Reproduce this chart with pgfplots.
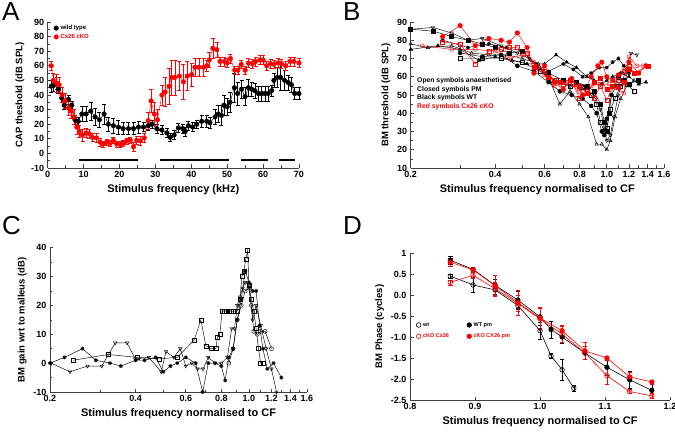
\documentclass[border=0pt]{standalone}
\usepackage{pgfplots}
\pgfplotsset{compat=1.18}
\usepackage{pgfplotstable}
\usepackage{fontspec}
\setmainfont{Liberation Sans}
\usetikzlibrary{plotmarks}

\pgfplotstableread{
x y e
1 46 4
1.6 46.5 4
2.5 48 4
3 44 3
3.9 38 3
4.6 33 3
5.8 37 3
6.7 33 3
7.6 23 3
8.5 22 3
9.5 27 5
10.7 27 5
12 29 6
13.2 25 6
14.4 23 5
15.7 27 7
16.9 20 5
18.3 19 5
19.7 18 5
21 17 4
22.5 17 4
23.9 17 4
25.3 18 4
26.7 18 3
28 19 3
29 20 3
30.4 17 3
31.8 16 3
33.2 14 3
34.1 11 3
35.2 12.6 3
36.4 17.5 3
37.6 17 3
38.3 15 3
39.2 19 3
40.4 18 3
41.5 20 3
42.9 22 4
44.3 22 4
45.2 21 4
46.6 25 5
47.5 27 6
48.4 26 7
49.1 33 7
50 32 6
50.8 35 7
52 45 10
52.9 41 8
54 44 6
55 39 6
55.9 45 6
56.8 44 5
57.7 43 5
58.7 41 5
59.6 41 5
60.5 41 5
61.4 41 5
62.4 43 4
63 50 5
63.9 52 7
64.9 52 9
66 50 7
67 48.5 5
67.9 47 5
68.8 41 4
70 41 4
}\wtdata

\pgfplotstableread{
x y e
1 60 3
1.6 50 5
2.5 48 6
3.2 47 5
4 40 5
4.8 36 5
5.8 31 5
6.5 29 5
7.3 25 5
8.1 18 5
8.8 15 4
9.7 12.5 4
10.7 14 3
11.6 13.5 3
12.5 11 3
13.6 10.6 3
14.6 7.7 3
15.5 6.5 2
16.4 7.7 2
17.4 7 2
18.3 9 2
19.2 6.5 2
20.2 6 2
21.1 7 2
22 8.5 2
23 9 2
23.9 4.5 3
24.8 9 3
25.8 8.5 3
26.9 10.6 3
28 22.5 6
28.8 36 8
29.7 27 8
30.6 23 7
31.8 40 7
32.7 42 10
33.8 46 12
34.5 52 12
35.4 52 12
36.7 53 10
37.8 49 12
38.9 53 10
40.1 54 8
41 59 6
42.1 59 6
43.4 59 6
44.3 60 4
45 64 5
46 72 7
47.1 71 5
48 63 3
49.2 63 3
50 62 3
50.9 65 3
52.1 57 3
53 57 3
53.9 61 3
55 57 3
55.9 62 3
57 61.5 3
57.9 63 3
59.1 64 3
60 64 3
61 60 3
62.1 61.5 3
63 61 3
64.2 62 3
65.1 61.5 3
66.3 60 3
67.5 63 3
68.6 63 3
70 62 3
}\kodata

\pgfplotsset{
  panel/.style={
    scale only axis,
    anchor=south west,
    axis x line*=bottom,
    axis y line*=left,
    axis line style={-, black!75, line width=0.7pt},
    tick style={black!75, line width=0.6pt},
    major tick length=3.5pt,
    minor tick length=2.5pt,
    tick align=inside,
    /pgf/number format/assume math mode=true,
    tick label style={font=\bfseries\fontsize{9}{10}\selectfont},
    xlabel style={font=\bfseries\fontsize{11}{12}\selectfont},
    ylabel style={font=\bfseries\fontsize{9.5}{10}\selectfont},
    legend image code/.code={\draw[#1, /tikz/only marks] plot coordinates {(0.12cm,0cm)};},
    clip=false,
  },
}

\begin{document}
\begin{tikzpicture}
\path[use as bounding box] (0pt,0pt) rectangle (675pt,434pt);

\node[anchor=north west, font=\fontsize{26}{26}\selectfont, inner sep=0pt] at (2pt,432pt) {A};
\node[anchor=north west, font=\fontsize{26}{26}\selectfont, inner sep=0pt] at (343pt,432pt) {B};
\node[anchor=north west, font=\fontsize{26}{26}\selectfont, inner sep=0pt] at (2pt,218pt) {C};
\node[anchor=north west, font=\fontsize{26}{26}\selectfont, inner sep=0pt] at (343pt,218pt) {D};

% ---------------- A
\begin{axis}[panel,
  at={(47.7pt,266pt)}, width=251.3pt, height=146pt,
  xmin=0, xmax=70, ymin=-10, ymax=90,
  xtick={0,10,...,70}, minor xtick={5,15,...,65},
  ytick={-10,0,...,90}, minor ytick={-5,5,...,85},
  xlabel={Stimulus frequency (kHz)},
  ylabel={CAP theshold (dB SPL)},
  legend style={at={(0.02,1.0)}, anchor=north west, draw=none, fill=none,
    font=\bfseries\fontsize{6}{6}\selectfont, row sep=-1pt, inner sep=1pt},
  legend cell align=left,
  error bars/error bar style={line width=0.5pt},
  error bars/error mark options={rotate=90, mark size=2pt, line width=0.5pt},
]
\addplot[black, mark=*, mark size=2.3pt, line width=0.4pt,
  error bars/.cd, y dir=both, y explicit]
  table[x=x, y=y, y error=e] {\wtdata};
\addlegendentry{wild type}
\addplot[red, mark=*, mark size=2.3pt, line width=0.4pt,
  error bars/.cd, y dir=both, y explicit]
  table[x=x, y=y, y error=e] {\kodata};
\addlegendentry{\textcolor{red}{Cx26 cKO}}
\addplot[black, line width=1.1pt, forget plot] coordinates {(8.8,-4.5) (25.2,-4.5)};
\addplot[black, line width=1.1pt, forget plot] coordinates {(31.3,-4.5) (50.6,-4.5)};
\addplot[black, line width=1.1pt, forget plot] coordinates {(53.8,-4.5) (61.5,-4.5)};
\addplot[black, line width=1.1pt, forget plot] coordinates {(64.5,-4.5) (68.9,-4.5)};
\end{axis}

% ---------------- B
\begin{axis}[panel, xmode=log,
  xmin=0.2, xmax=1.6,
  xtick={0.2,0.4,0.6,0.8,1.0,1.2,1.4,1.6},
  xticklabels={0.2,0.4,0.6,0.8,1.0,1.2,1.4,1.6},
  minor xtick={0.3,0.5,0.7,0.9,1.1,1.3,1.5},
  at={(410.7pt,266pt)}, width=253.3pt, height=146pt,
  ymin=10, ymax=90,
  ytick={10,20,...,90}, minor ytick={15,25,...,85},
  xlabel={Stimulus frequency normalised to CF},
  ylabel={BM threshold (dB SPL)},
  every axis plot/.append style={line width=0.45pt, mark size=2pt},
]
\addplot[black, mark=square*] coordinates {(0.2,86)(0.24,85)(0.28,82)(0.32,80)(0.36,78)(0.4,76)(0.45,73)(0.5,74)(0.56,66)(0.62,62)(0.7,58)(0.78,57)(0.85,55)(0.9,52)(0.95,45)(0.98,35)(1.0,30)(1.02,40)(1.05,55)(1.1,60)(1.15,58)(1.2,56)(1.3,58)};
\addplot[black, mark=triangle, mark options={rotate=180}] coordinates {(0.2,86)(0.24,87)(0.28,84)(0.32,80)(0.36,81)(0.42,77)(0.48,73)(0.53,70)(0.6,62)(0.66,57)(0.74,55)(0.82,55)(0.9,50)(0.95,42)(0.98,32)(1.0,25)(1.03,28)(1.06,38)(1.1,50)(1.16,62)(1.22,73)(1.28,72)};
\addplot[black, mark=triangle] coordinates {(0.2,78)(0.23,76)(0.28,77)(0.33,73)(0.38,72)(0.44,72)(0.5,70)(0.57,67)(0.63,57)(0.68,45)(0.74,52)(0.8,45)(0.86,38)(0.92,23)(0.96,23)(1.0,20)(1.03,25)(1.07,38)(1.12,48)(1.18,55)(1.25,58)};
\addplot[black, mark=triangle*] coordinates {(0.2,75)(0.25,77)(0.3,75)(0.35,69)(0.4,71)(0.46,69)(0.52,67)(0.6,67)(0.66,72)(0.72,68)(0.78,65)(0.85,60)(0.9,58)(0.96,56)(1.0,58)(1.05,60)(1.12,62)(1.2,60)(1.3,56)(1.38,57)};
\addplot[black, mark=10-pointed star] coordinates {(0.26,80)(0.32,76)(0.38,78)(0.44,76)(0.5,74)(0.56,67)(0.62,63)(0.7,67)(0.76,64)(0.82,60)(0.88,62)(0.94,65)(1.0,65)(1.05,68)(1.1,70)(1.15,66)(1.2,62)};
\addplot[black, mark=*] coordinates {(0.3,73)(0.36,71)(0.42,72)(0.48,66)(0.55,63)(0.62,57)(0.68,52)(0.75,50)(0.82,48)(0.88,44)(0.92,40)(0.96,30)(0.98,28)(1.0,37)(1.04,50)(1.08,55)(1.14,58)};
\addplot[black, mark=square] coordinates {(0.3,70)(0.36,70)(0.42,70)(0.5,68)(0.58,63)(0.66,58)(0.74,55)(0.82,54)(0.88,50)(0.92,45)(0.95,35)(0.98,30)(1.0,32)(1.03,42)(1.07,48)(1.12,55)(1.18,56)(1.25,52)};
\addplot[red, mark=*, mark size=2.3pt] coordinates {(0.26,82)(0.3,88)(0.34,77)(0.38,81)(0.42,80)(0.45,79)(0.48,84)(0.52,76)(0.55,62)(0.6,66)(0.65,57)(0.7,53)(0.75,59)(0.82,50)(0.88,60)(0.93,66)(0.96,68)(1.0,60)(1.05,58)(1.1,61)(1.2,68)(1.3,62)(1.38,66)};
\addplot[red, mark=square] coordinates {(0.26,79)(0.3,78)(0.34,67)(0.38,74)(0.42,75)(0.45,76)(0.48,76)(0.52,73)(0.56,66)(0.6,63)(0.65,58)(0.7,56)(0.76,56)(0.8,48)(0.85,52)(0.9,48)(0.95,55)(1.0,47)(1.05,55)(1.1,58)(1.15,63)(1.2,66)(1.25,62)};
\addplot[red, mark=o] coordinates {(0.22,77)(0.28,75)(0.34,75)(0.4,74)(0.45,70)(0.5,72)(0.55,68)(0.6,61)(0.65,55)(0.72,57)(0.8,52)(0.88,55)(0.95,56)(1.02,56)(1.08,54)(1.15,51)(1.2,71)(1.28,66)(1.35,66)};
\addplot[red, mark=square*] coordinates {(0.55,65)(0.62,60)(0.68,57)(0.74,58)(0.8,55)(0.85,51)(0.9,57)(0.95,59)(1.0,53)(1.05,55)(1.1,54)(1.15,57)(1.2,64)(1.25,62)(1.4,66)};
\node[anchor=west, font=\bfseries\fontsize{6.8}{7}\selectfont, align=left, inner sep=0pt]
  at (rel axis cs:0.025,0.51) {Open symbols anaesthetised\\[1.5pt]Closed symbols PM\\[1.5pt]Black symbols WT\\[1.5pt]\textcolor{red}{Red symbols Cx26 cKO}};
\end{axis}

% ---------------- C
\begin{axis}[panel, xmode=log,
  xmin=0.2, xmax=1.6,
  xtick={0.2,0.4,0.6,0.8,1.0,1.2,1.4,1.6},
  xticklabels={0.2,0.4,0.6,0.8,1.0,1.2,1.4,1.6},
  minor xtick={0.3,0.5,0.7,0.9,1.1,1.3,1.5},
  at={(50pt,42pt)}, width=257pt, height=144.3pt,
  ymin=-10, ymax=40,
  ytick={-10,0,...,40}, minor ytick={-5,5,...,35},
  xlabel={Stimulus frequency normalised to CF},
  ylabel={BM gain wrt to malleus (dB)},
  every axis plot/.append style={black, line width=0.45pt, mark size=2pt},
]
\addplot[mark=square] coordinates {(0.241,1)(0.321,3)(0.404,2)(0.483,1.5)(0.56,2)(0.642,8)(0.678,15)(0.706,6)(0.736,5)(0.766,5)(0.775,9)(0.79,10)(0.805,18)(0.82,18)(0.835,18)(0.85,18)(0.865,18)(0.88,18)(0.91,18)(0.93,22)(0.945,30)(0.96,32)(0.975,36)(0.99,39)(1.0,27)(1.02,22)(1.04,18)(1.06,12)(1.08,5)(1.1,0)(1.12,0)};
\addplot[mark=triangle, mark options={rotate=180}] coordinates {(0.202,0)(0.235,-3)(0.271,-1)(0.304,-1)(0.339,7)(0.373,7)(0.399,1.5)(0.445,2)(0.492,-3)(0.511,4)(0.545,2)(0.574,5)(0.6,-1)(0.63,0)(0.66,-2)(0.69,-2)(0.72,2)(0.76,0)(0.8,0)(0.84,2)(0.87,12)(0.89,12)(0.91,20)(0.93,23)(0.95,26)(0.97,28)(1.0,27)(1.03,15)(1.06,20)(1.1,13)(1.15,5)(1.2,-2)(1.25,-10)};
\addplot[mark=10-pointed star, mark options={fill=white}] coordinates {(0.2,0)(0.225,2)(0.26,5)(0.29,1)(0.325,0)(0.355,-1)(0.4,1)(0.43,1)(0.47,2)(0.5,-3)(0.53,-1)(0.56,0)(0.6,2)(0.65,0)(0.688,-10)(0.72,0)(0.76,0)(0.8,-1)(0.825,-6)(0.85,2)(0.88,5)(0.91,15)(0.94,22)(0.97,32)(1.0,28)(1.03,25)(1.06,25)(1.09,13)(1.12,5)(1.16,-2)(1.22,0)(1.3,-5)};
\addplot[mark=o] coordinates {(0.85,0)(0.88,5)(0.91,15)(0.94,20)(0.97,25)(1.0,26)(1.02,20)(1.04,11)(1.07,10)(1.1,11)(1.14,11)(1.2,5)};
\end{axis}

% ---------------- D
\begin{axis}[panel,
  at={(410pt,34pt)}, width=260pt, height=147pt,
  xmin=0.8, xmax=1.2, ymin=-2.5, ymax=1,
  xtick={0.8,0.9,1.0,1.1,1.2}, xticklabels={0.8,0.9,1.0,1.1,1.2},
  ytick={-2.5,-2,-1.5,-1,-0.5,0,0.5,1},
  yticklabels={-2.5,-2.0,-1.5,-1.0,-0.5,0.0,0.5,1},
  xlabel={Stimulus frequency normalised to CF},
  ylabel={BM Phase (cycles)},
  legend style={at={(0.02,0.55)}, anchor=north west, draw=none, fill=none,
    font=\bfseries\fontsize{5.5}{6}\selectfont, inner sep=1pt, row sep=2pt,
    /tikz/every even column/.append style={column sep=16pt}},
  legend columns=2,
  legend cell align=left,
  every axis plot/.append style={line width=0.6pt, mark size=2.3pt},
  error bars/error bar style={line width=0.6pt},
  error bars/error mark options={rotate=90, mark size=2.2pt, line width=0.6pt},
]
\addplot[black, mark=o, error bars/.cd, y dir=both, y explicit] coordinates {
  (0.862,0.45) +- (0,0.05)
  (0.897,0.24) +- (0,0.18)
  (0.931,0.12) +- (0,0.1)
  (0.966,-0.25) +- (0,0.1)
  (1.0,-0.85) +- (0,0.2)
  (1.017,-1.45) +- (0,0.05)
  (1.034,-1.78) +- (0,0.25)
  (1.052,-2.22) +- (0,0.08)};
\addlegendentry{wt}
\addplot[black, mark=*, error bars/.cd, y dir=both, y explicit] coordinates {
  (0.862,0.83) +- (0,0.1)
  (0.897,0.61) +- (0,0.05)
  (0.931,0.23) +- (0,0.15)
  (0.966,-0.12) +- (0,0.2)
  (1.0,-0.52) +- (0,0.2)
  (1.017,-0.82) +- (0,0.2)
  (1.034,-1.0) +- (0,0.15)
  (1.069,-1.38) +- (0,0.15)
  (1.103,-1.72) +- (0,0.2)
  (1.138,-2.02) +- (0,0.2)
  (1.172,-2.27) +- (0,0.2)};
\addlegendentry{WT pm}
\addplot[red, mark=o, error bars/.cd, y dir=both, y explicit] coordinates {
  (0.862,0.3) +- (0,0.06)
  (0.897,0.47) +- (0,0.08)
  (0.931,0.15) +- (0,0.15)
  (0.966,-0.2) +- (0,0.2)
  (1.0,-0.57) +- (0,0.25)
  (1.034,-0.93) +- (0,0.2)
  (1.069,-1.38) +- (0,0.15)
  (1.103,-1.92) +- (0,0.2)
  (1.138,-2.3) +- (0,0.05)
  (1.172,-2.4) +- (0,0.05)};
\addlegendentry{\textcolor{red}{cKO Cx26}}
\addplot[red, mark=*, error bars/.cd, y dir=both, y explicit] coordinates {
  (0.862,0.78) +- (0,0.1)
  (0.897,0.6) +- (0,0.05)
  (0.931,0.22) +- (0,0.25)
  (0.966,-0.18) +- (0,0.3)
  (1.0,-0.55) +- (0,0.25)
  (1.034,-0.85) +- (0,0.1)
  (1.069,-1.33) +- (0,0.2)
  (1.103,-1.5) +- (0,0.05)
  (1.138,-1.95) +- (0,0.1)
  (1.172,-2.07) +- (0,0.05)};
\addlegendentry{\textcolor{red}{cKO CX26 pm}}
\end{axis}
\end{tikzpicture}
\end{document}
